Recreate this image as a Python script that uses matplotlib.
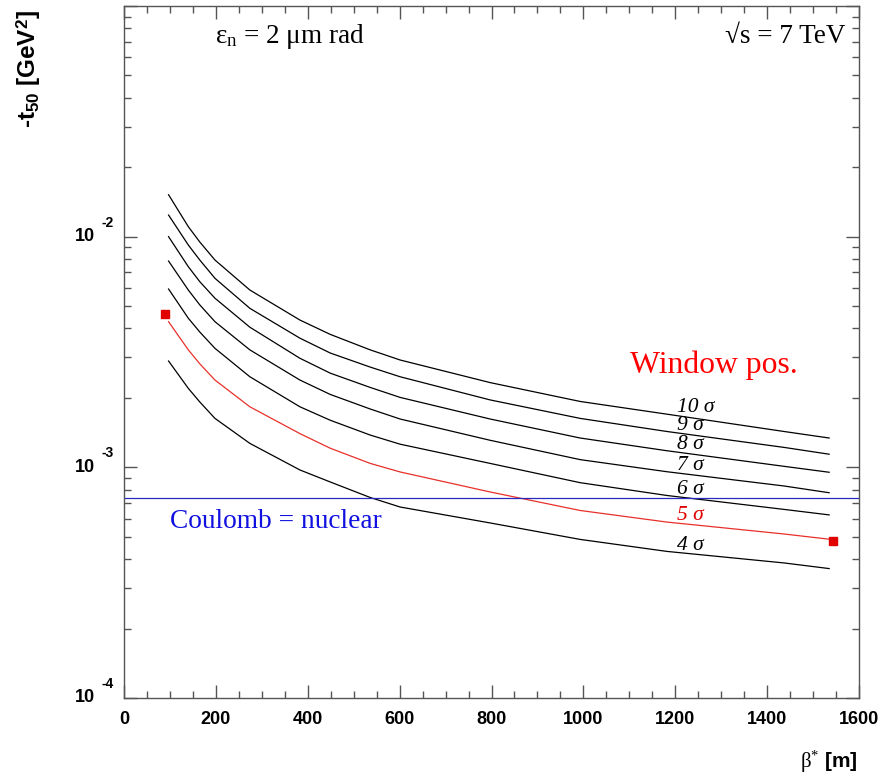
import matplotlib
matplotlib.use("Agg")
import matplotlib.pyplot as plt
from matplotlib.ticker import MultipleLocator, LogLocator, NullFormatter

plt.rcParams["mathtext.fontset"] = "custom"
plt.rcParams["mathtext.rm"] = "Liberation Serif"
plt.rcParams["mathtext.it"] = "Liberation Serif:italic"
plt.rcParams["mathtext.bf"] = "Liberation Sans:bold"

beta = [97, 140, 165, 198, 274, 383, 449, 536, 601, 797, 993, 1182, 1437, 1535]

# -t_50 [GeV^2] for each n sigma window position
t_10 = [0.0152, 0.01105, 0.00948, 0.00792, 0.00587, 0.00435, 0.00377, 0.00323, 0.00292,
        0.00233, 0.00193, 0.00170, 0.00143, 0.00134]
t_9 = [0.01241, 0.00920, 0.00792, 0.00660, 0.00489, 0.00363, 0.00313, 0.00272, 0.00247,
       0.00196, 0.00163, 0.00143, 0.00122, 0.00114]
t_8 = [0.01000, 0.00741, 0.00638, 0.00541, 0.00405, 0.00297, 0.00256, 0.00222, 0.00201,
       0.00162, 0.00134, 0.00118, 0.00101, 0.000952]
t_7 = [0.00784, 0.00587, 0.00506, 0.00428, 0.00323, 0.00239, 0.00207, 0.00179, 0.00162,
       0.00131, 0.00108, 0.000957, 0.000830, 0.000776]
t_6 = [0.00593, 0.00443, 0.00386, 0.00328, 0.00247, 0.00183, 0.00160, 0.00138, 0.00126,
       0.00104, 0.000858, 0.000755, 0.000657, 0.000622]
t_5 = [0.00428, 0.00323, 0.00281, 0.00239, 0.00183, 0.00140, 0.00121, 0.00104, 0.000955,
       0.000782, 0.000650, 0.000579, 0.000514, 0.000488]
t_4 = [0.00289, 0.00220, 0.00192, 0.00163, 0.00127, 0.000974, 0.000864, 0.000740, 0.000673,
       0.000574, 0.000487, 0.000432, 0.000385, 0.000364]

nsig = [10, 9, 8, 7, 6, 5, 4]
curves = [t_10, t_9, t_8, t_7, t_6, t_5, t_4]

# end points of the 5 sigma curve (markers)
mark_beta = [89, 1543]
mark_t = [0.00461, 0.000479]

t_coulomb = 0.000734

fig = plt.figure(figsize=(8.83, 7.81), dpi=100)
ax = fig.add_axes([124 / 883, 1 - 698 / 781, 735 / 883, 692 / 781])

for n, t in zip(nsig, curves):
    col = "#e8302a" if n == 5 else "black"
    ax.plot(beta, t, color=col, lw=0.9)
    ax.annotate(f"{n} σ", xy=(beta[11], t[11]), xytext=(7.5, 4.5), textcoords="offset points",
                ha="left", va="center", fontsize=15.5, family="Liberation Serif",
                fontstyle="italic", color="#e00000" if n == 5 else "black")

ax.plot(mark_beta, mark_t, ls="none", marker="s", ms=6, color="#e00000")
ax.axhline(t_coulomb, color="#2a2ac0", lw=0.9)

ax.set_xlim(0, 1600)
ax.set_yscale("log")
ax.set_ylim(1e-4, 1e-1)

ax.xaxis.set_major_locator(MultipleLocator(200))
ax.xaxis.set_minor_locator(MultipleLocator(50))
ax.yaxis.set_major_locator(LogLocator(base=10))
ax.yaxis.set_minor_locator(LogLocator(base=10, subs=range(2, 10)))
ax.yaxis.set_major_formatter(NullFormatter())
ax.yaxis.set_minor_formatter(NullFormatter())

ax.tick_params(which="both", direction="in", top=True, right=True, color="#555555", width=1)
ax.tick_params(which="major", length=9.5)
ax.tick_params(which="minor", length=4.7)
ax.tick_params(axis="x", pad=9, labelsize=13)
for lab in ax.get_xticklabels():
    lab.set_fontweight("bold")
    lab.set_family("Liberation Sans")
for sp in ax.spines.values():
    sp.set_color("#555555")
    sp.set_linewidth(1)

# ROOT style 10^n labels
for e in [-4, -3, -2]:
    ax.annotate("10", xy=(0, 10.0 ** e), xycoords=("axes fraction", "data"), xytext=(-21, 0),
                textcoords="offset points", ha="right", va="center", fontsize=13,
                fontweight="bold", family="Liberation Sans")
    ax.annotate(str(e), xy=(0, 10.0 ** e), xycoords=("axes fraction", "data"), xytext=(-16, 10),
                textcoords="offset points", ha="left", va="center", fontsize=10,
                fontweight="bold", family="Liberation Sans")

ax.text(0.1238, 0.947, "ε$_{\\mathrm{n}}$ = 2 μm rad", transform=ax.transAxes,
        fontsize=19.5, family="Liberation Serif", va="baseline", ha="left")
ax.text(0.981, 0.947, "√s = 7 TeV", transform=ax.transAxes,
        fontsize=19.5, family="Liberation Serif", va="baseline", ha="right")
ax.text(0.688, 0.4697, "Window pos.", transform=ax.transAxes, color="#ff0000",
        fontsize=22.8, family="Liberation Serif", va="baseline", ha="left")
ax.text(0.0626, 0.2457, "Coulomb = nuclear", transform=ax.transAxes, color="#1010e0",
        fontsize=19.7, family="Liberation Serif", va="baseline", ha="left")

fig.text(29 / 883, 1 - 10 / 781, "-t$_{\\mathbf{50}}$ [GeV$^{\\mathbf{2}}$]", rotation=90,
         ha="center", va="top", fontsize=17.5, fontweight="bold", family="Liberation Sans")
fig.text(858 / 883, 1 - 762 / 781, "$\\mathrm{β}^{\\mathrm{*}}$ [m]",
         ha="right", va="center", fontsize=15, fontweight="bold", family="Liberation Sans")

fig.savefig("out.png", dpi=100)
